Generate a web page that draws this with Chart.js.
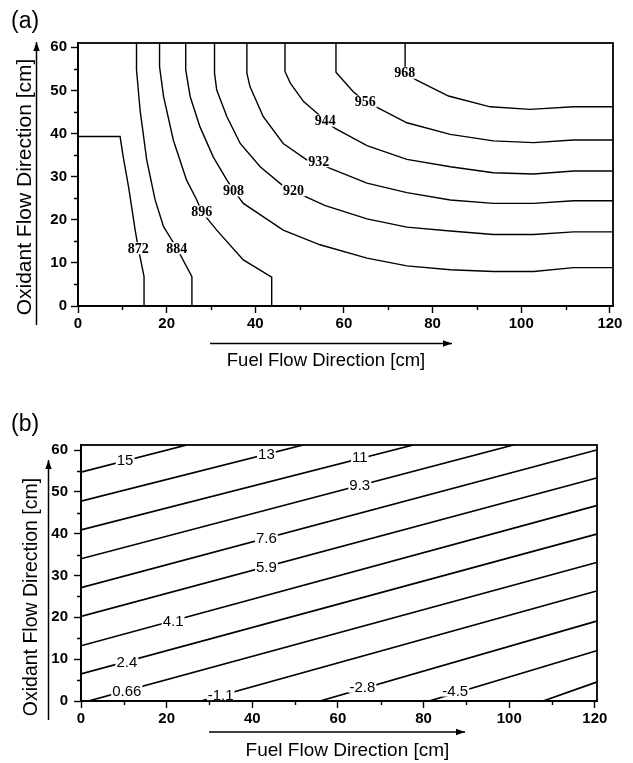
<!DOCTYPE html>
<html>
<head>
<meta charset="utf-8">
<script src="https://cdn.jsdelivr.net/npm/chart.js@4.4.1/dist/chart.umd.min.js"></script>
<style>
  html, body { margin: 0; padding: 0; background: #fff; }
  #wrap { position: relative; width: 633px; height: 763px; }
  canvas { position: absolute; left: 0; }
  #chart-a { top: 0; }
  #chart-b { top: 380px; }
</style>
</head>
<body>
<div id="wrap">
  <canvas id="chart-a" width="633" height="380"></canvas>
  <canvas id="chart-b" width="633" height="383"></canvas>
</div>
<script>
// ---- panel (a): temperature contours, [x cm, y cm] points
const aLevels = ['872', '884', '896', '908', '920', '932', '944', '956', '968'];
const a872 = [[0,39.3],[9.5,39.3],[10.2,34.6],[11.4,27.7],[12.9,17.6],[13.6,13.4],[14.9,6.8],[14.9,0]];
const a884 = [[13.2,61],[13.2,54.8],[14,45.5],[15.5,33.9],[17.4,24.6],[19.3,18.4],[22.3,13.4],[25.7,6.8],[25.7,0]];
const a896 = [[18.4,61],[18.4,55.5],[19.3,48.6],[21.5,38.5],[24.5,29.2],[26.8,24.6],[27.9,21.9],[31.3,17.6],[37.3,10.7],[43.7,6.7],[43.7,0]];
const a908 = [[24.3,61],[24.3,54.8],[25.3,48.6],[27.5,41.6],[30.5,34.6],[33.6,29.2],[35.1,26.8],[37.3,23.8],[46.3,17.6],[54.6,14.2],[65.2,11.1],[74.2,9.3],[84,8.4],[93.7,8],[102.8,8],[111.8,8.9],[120.7,8.9]];
const a920 = [[30.8,61],[30.8,54],[31.3,50.1],[33.6,43.9],[36.6,37.7],[41.1,32.3],[46,28.1],[48.6,26.8],[51.2,25.4],[55.8,23.3],[65.2,20.2],[74.2,18.3],[84,17.4],[93.7,16.6],[102.8,16.6],[111.8,17.2],[120.7,17.2]];
const a932 = [[38.1,61],[38.1,54],[38.8,50.9],[41.8,43.9],[46.3,37.7],[51.6,33.9],[54.3,33.2],[56.9,31.9],[65.2,28.5],[74.2,26.3],[84,24.6],[93.7,23.8],[102.8,23.8],[111.8,24.4],[120.7,24.4]];
const a944 = [[46.7,61],[46.7,54.4],[47.9,51.7],[50.9,47.4],[53.5,45.1],[55.8,43],[58,41.2],[65.2,37.2],[74.2,34],[84,32.3],[93.7,30.9],[102.8,30.6],[111.8,31.3],[120.7,31.3]];
const a956 = [[58.2,61],[58.2,54.2],[62.1,49.7],[64.8,47.4],[67.8,45.9],[74.2,42.5],[84,39.8],[93.7,38.3],[102.8,37.9],[111.8,38.5],[120.7,38.5]];
const a968 = [[73.8,61],[73.8,55.9],[73.7,54.1],[76.4,52.4],[83.6,48.7],[93,46.2],[102,45.6],[111.8,46.2],[120.7,46.2]];
const aLabelX = [13.6, 22.3, 27.9, 35.1, 48.6, 54.3, 55.8, 64.8, 73.7];
const aLabelY = [13.4, 13.4, 21.9, 26.8, 26.8, 33.6, 43, 47.4, 54.1];

// ---- panel (b): straight contours, start and end points
const bLevels = ['15', '13', '11', '9.3', '7.6', '5.9', '4.1', '2.4', '0.66', '-1.1', '-2.8', '-4.5', ''];
const bX0 = [0, 0, 0, 0, 0, 0, 0, 0, 1.7, 28, 55.8, 81.3, 107.9];
const bY0 = [54.7, 47.8, 40.9, 34.0, 27.1, 20.2, 13.2, 6.5, 0, 0, 0, 0, 0];
const bX1 = [24.7, 51.9, 77.6, 101, 120.4, 120.4, 120.4, 120.4, 120.4, 120.4, 120.4, 120.4, 120.4];
const bY1 = [61.2, 61.2, 61.2, 61.2, 60.0, 53.3, 46.7, 39.9, 33.1, 26.3, 19.1, 12.0, 4.5];
const bLabelX = [10.3, 43.3, 65.1, 65.1, 43.3, 43.3, 21.5, 10.7, 10.7, 32.6, 65.7, 87.4];
const bLabelY = [57.7, 59.1, 58.3, 51.6, 38.9, 32.1, 19.2, 9.4, 2.5, 1.4, 3.4, 2.5];

const xTicksMajor = [0, 20, 40, 60, 80, 100, 120];
const yTicksMajor = [0, 10, 20, 30, 40, 50, 60];

function lineSet(pts, w) {
  return {
    data: pts.map(p => ({ x: p[0], y: p[1] })),
    showLine: true, borderColor: '#000', borderWidth: w,
    pointRadius: 0, fill: false, tension: 0
  };
}

function arrow(ctx, x1, y1, x2, y2) {
  ctx.beginPath(); ctx.moveTo(x1, y1); ctx.lineTo(x2, y2); ctx.stroke();
  const ang = Math.atan2(y2 - y1, x2 - x1), L = 9, W = 3.2;
  ctx.beginPath();
  ctx.moveTo(x2, y2);
  ctx.lineTo(x2 - L * Math.cos(ang) + W * Math.sin(ang), y2 - L * Math.sin(ang) - W * Math.cos(ang));
  ctx.lineTo(x2 - L * Math.cos(ang) - W * Math.sin(ang), y2 - L * Math.sin(ang) + W * Math.cos(ang));
  ctx.closePath(); ctx.fill();
}

const decor = {
  id: 'decor',
  afterDatasetsDraw(chart, args, o) {
    const { ctx, chartArea: a, scales: { x, y } } = chart;
    ctx.save();
    // contour labels with a white gap under them
    ctx.font = o.labelFont;
    ctx.textAlign = 'center';
    ctx.textBaseline = 'middle';
    o.labelText.forEach((t, i) => {
      if (!t || o.labelX[i] === undefined) return;
      const px = x.getPixelForValue(o.labelX[i]);
      const py = y.getPixelForValue(o.labelY[i]);
      const w = ctx.measureText(t).width;
      ctx.fillStyle = '#fff';
      ctx.fillRect(px - w / 2 - o.gap, py - o.boxH / 2, w + 2 * o.gap, o.boxH);
      ctx.fillStyle = '#000';
      ctx.fillText(t, px, py + o.dy);
    });
    // frame
    ctx.strokeStyle = '#000';
    ctx.lineWidth = 1.8;
    ctx.strokeRect(a.left, a.top, a.width, a.height);
    // minor ticks
    ctx.lineWidth = 1.4;
    ctx.beginPath();
    for (let v = 10; v < 121; v += 20) {
      const px = Math.round(x.getPixelForValue(v)) + 0.5;
      ctx.moveTo(px, a.bottom); ctx.lineTo(px, a.bottom + 4);
    }
    for (let v = 5; v < 61; v += 10) {
      const py = Math.round(y.getPixelForValue(v)) + 0.5;
      ctx.moveTo(a.left, py); ctx.lineTo(a.left - 4, py);
    }
    ctx.stroke();
    ctx.restore();
  },
  afterDraw(chart, args, o) {
    const ctx = chart.ctx;
    ctx.save();
    ctx.fillStyle = '#000';
    ctx.strokeStyle = '#000';
    ctx.lineWidth = 1.5;
    ctx.font = '23px "Liberation Sans", Arial, sans-serif';
    ctx.textAlign = 'left';
    ctx.textBaseline = 'middle';
    ctx.fillText(o.panel, 11, o.panelY);
    // axis titles
    ctx.textAlign = 'center';
    ctx.font = o.xTitleFont;
    ctx.fillText('Fuel Flow Direction [cm]', o.xTitle[0], o.xTitle[1]);
    ctx.save();
    ctx.translate(o.yTitle[0], o.yTitle[1]);
    ctx.rotate(-Math.PI / 2);
    ctx.font = o.yTitleFont;
    ctx.fillText('Oxidant Flow Direction [cm]', 0, 0);
    ctx.restore();
    // direction arrows
    arrow(ctx, o.xArrow[0], o.xArrow[1], o.xArrow[2], o.xArrow[3]);
    arrow(ctx, o.yArrow[0], o.yArrow[1], o.yArrow[2], o.yArrow[3]);
    ctx.restore();
  }
};

function axes(xMax, yMax, yWidth, xHeight, yPad, xPad) {
  const tickFont = { family: '"Liberation Sans", Arial, sans-serif', size: 15, weight: 'bold' };
  return {
    x: {
      type: 'linear', min: 0, max: xMax,
      afterFit: s => { s.height = xHeight; },
      afterBuildTicks: s => { s.ticks = xTicksMajor.map(v => ({ value: v })); },
      ticks: { color: '#000', font: tickFont, padding: xPad, maxRotation: 0, callback: v => String(v) },
      grid: { drawOnChartArea: false, drawTicks: true, tickLength: 7, tickWidth: 1.4, tickColor: '#000' },
      border: { display: true, color: '#000', width: 1.8 }
    },
    y: {
      type: 'linear', min: 0, max: yMax,
      afterFit: s => { s.width = yWidth; },
      afterBuildTicks: s => { s.ticks = yTicksMajor.map(v => ({ value: v })); },
      ticks: { color: '#000', font: tickFont, padding: yPad, callback: v => String(v) },
      grid: { drawOnChartArea: false, drawTicks: true, tickLength: 7, tickWidth: 1.4, tickColor: '#000' },
      border: { display: true, color: '#000', width: 1.8 }
    }
  };
}

const aLines = [a872, a884, a896, a908, a920, a932, a944, a956, a968];
new Chart(document.getElementById('chart-a'), {
  type: 'scatter',
  data: { datasets: aLines.map(p => lineSet(p, 1.4)) },
  options: {
    responsive: false, animation: false, events: [],
    layout: { padding: { left: 0, top: 43, right: 20, bottom: 0 } },
    scales: axes(120.7, 61, 78, 74, 4, 2),
    plugins: {
      legend: { display: false }, tooltip: { enabled: false },
      decor: {
        labelText: aLevels, labelX: aLabelX, labelY: aLabelY,
        labelFont: 'bold 14px "Liberation Serif", "Times New Roman", serif',
        gap: 1, boxH: 12, dy: 1,
        panel: '(a)', panelY: 22,
        xTitle: [326, 361], xTitleFont: '18.5px "Liberation Sans", Arial, sans-serif',
        yTitle: [25, 187], yTitleFont: '21px "Liberation Sans", Arial, sans-serif',
        xArrow: [210, 343.5, 452, 343.5],
        yArrow: [36.5, 325, 36.5, 42]
      }
    }
  },
  plugins: [decor]
});

const bLines = bLevels.map((t, i) => [[bX0[i], bY0[i]], [bX1[i], bY1[i]]]);
new Chart(document.getElementById('chart-b'), {
  type: 'scatter',
  data: { datasets: bLines.map(p => lineSet(p, 1.7)) },
  options: {
    responsive: false, animation: false, events: [],
    layout: { padding: { left: 0, top: 65, right: 36, bottom: 0 } },
    scales: axes(120.5, 61.2, 81, 62, 6, 2),
    plugins: {
      legend: { display: false }, tooltip: { enabled: false },
      decor: {
        labelText: bLevels, labelX: bLabelX, labelY: bLabelY,
        labelFont: '15px "Liberation Sans", Arial, sans-serif',
        gap: 1, boxH: 12, dy: 1,
        panel: '(b)', panelY: 45,
        xTitle: [347.5, 371], xTitleFont: '19px "Liberation Sans", Arial, sans-serif',
        yTitle: [32, 217], yTitleFont: '19.5px "Liberation Sans", Arial, sans-serif',
        xArrow: [209, 352, 465, 352],
        yArrow: [48.5, 340, 48.5, 80]
      }
    }
  },
  plugins: [decor]
});
</script>
</body>
</html>
